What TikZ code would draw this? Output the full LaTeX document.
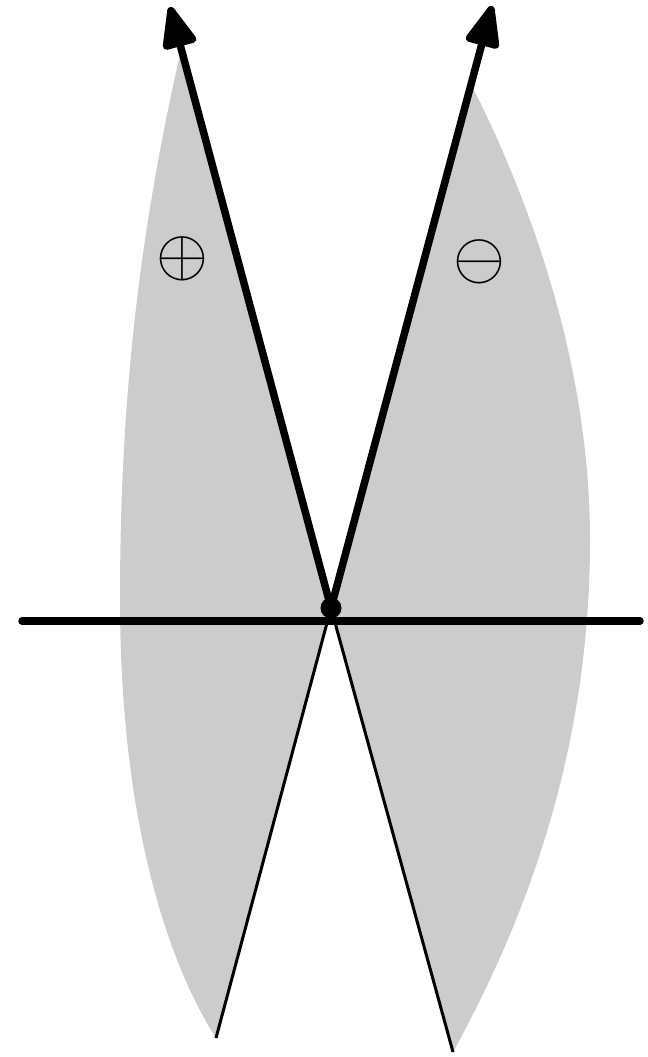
\documentclass[tikz,border=0pt]{standalone}
\usepackage{amsmath,amssymb}
\usetikzlibrary{arrows.meta,calc}
\tikzset{
  region/.style={
    fill=gray!40,
    draw=none
  },
  axis/.style={
    line width=0.15cm,
    line cap=round
  },
  vec/.style={
    line width=0.15cm,
    -{Triangle[length=0.95cm,width=0.72cm,round]}
  },
  ray/.style={
    line width=0.06cm
  },
  origin/.style={
    inner sep = 0pt,
    minimum size = 0.42cm,
    shape = circle,
    fill
  },
  sign/.style={
    inner sep = 0pt,
    scale=3.8
  }
}
\begin{document}
\begin{tikzpicture}[x=0.02cm,y=-0.02cm]
            \useasboundingbox (0,0) rectangle (647,1057);
            \coordinate (O) at (331,608);
            \coordinate (a) at (170,7);
            \coordinate (b) at (492,6);
            \coordinate (c) at (216,1038);
            \coordinate (d) at (453,1052);
            \coordinate (l) at (22,621);
            \coordinate (r) at (640,621);
            % shaded sectors
            \fill[region] ($(O)!0.93!(a)$) .. controls (135,250) and (120,420) .. (120,600)
                .. controls (120,800) and (160,950) .. (c) -- (O) -- cycle;
            \fill[region] ($(O)!0.87!(b)$) .. controls (540,220) and (590,380) .. (590,540)
                .. controls (590,760) and (520,930) .. (d) -- (O) -- cycle;
            \draw[axis] (l) -- (r);
            \foreach \e in {c,d}{
                    \draw[ray] (O) -- (\e);
                }
            \foreach \e in {a,b}{
                    \draw[vec] (O) -- (\e);
                }
            \node[origin] (o) at (O) {};
            \node[sign] (plus) at (182,259) {$\oplus$};
            \node[sign] (minus) at (479,262) {$\ominus$};
        \end{tikzpicture}
\end{document}
